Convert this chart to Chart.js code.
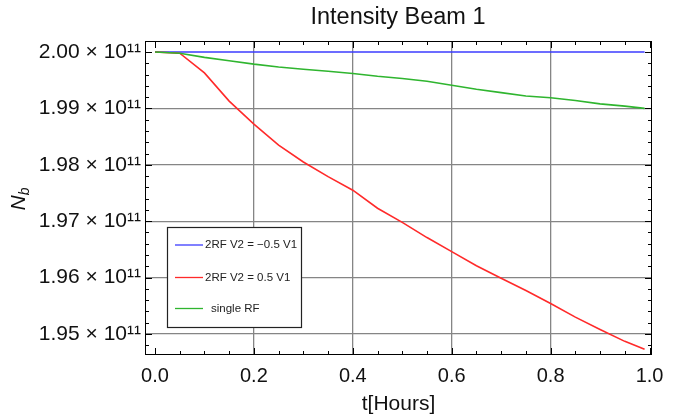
<!DOCTYPE html>
<html><head><meta charset="utf-8">
<script src="https://cdn.jsdelivr.net/npm/chart.js@4.4.1/dist/chart.umd.min.js"></script>
<style>html,body{margin:0;padding:0;background:#fff}#wrap{width:673px;height:419px}</style>
</head><body><div id="wrap"><canvas id="c" width="673" height="419"></canvas></div>
<script>
// ---- data ----
const chartTitle = "Intensity Beam 1";
const xAxisTitle = "t[Hours]";
const yAxisTitleMain = "N";
const yAxisTitleSub = "b";
const seriesLabels = ["2RF V2 = \u22120.5 V1", "2RF V2 = 0.5 V1", "single RF"];
const time = [0, 0.05, 0.10, 0.15, 0.20, 0.25, 0.30, 0.35, 0.40, 0.45, 0.50, 0.55, 0.60, 0.65, 0.70, 0.75, 0.80, 0.85, 0.90, 0.95, 0.99];
const blueValues = [2.0e11, 2.0e11, 2.0e11, 2.0e11, 2.0e11, 2.0e11, 2.0e11, 2.0e11, 2.0e11, 2.0e11, 2.0e11, 2.0e11, 2.0e11, 2.0e11, 2.0e11, 2.0e11, 2.0e11, 2.0e11, 2.0e11, 2.0e11, 2.0e11];
const redValues = [2.0000e11, 1.99978e11, 1.9963e11, 1.9913e11, 1.9872e11, 1.9835e11, 1.9805e11, 1.9779e11, 1.9755e11, 1.9723e11, 1.9698e11, 1.9671e11, 1.9646e11, 1.9621e11, 1.9599e11, 1.9577e11, 1.9554e11, 1.9530e11, 1.9508e11, 1.9487e11, 1.9473e11];
const greenValues = [2.0000e11, 1.99978e11, 1.99905e11, 1.99845e11, 1.99785e11, 1.99735e11, 1.99695e11, 1.9966e11, 1.9962e11, 1.9957e11, 1.9953e11, 1.9948e11, 1.9941e11, 1.9934e11, 1.9928e11, 1.9922e11, 1.9919e11, 1.9914e11, 1.9908e11, 1.9904e11, 1.9900e11];
const xTickValues = [0, 0.2, 0.4, 0.6, 0.8, 1.0];
const xTickLabels = ["0.0", "0.2", "0.4", "0.6", "0.8", "1.0"];
const yTickValues = [1.95e11, 1.96e11, 1.97e11, 1.98e11, 1.99e11, 2.00e11];
const yTickLabels = ["1.95 \u00d7 10\u00b9\u00b9", "1.96 \u00d7 10\u00b9\u00b9", "1.97 \u00d7 10\u00b9\u00b9", "1.98 \u00d7 10\u00b9\u00b9", "1.99 \u00d7 10\u00b9\u00b9", "2.00 \u00d7 10\u00b9\u00b9"];
const colors = ["#3b3bff", "#ff2a2a", "#2fb52f"];

const FONT = "'Liberation Sans', Arial, Helvetica, sans-serif";
const pts = vals => time.map((t, i) => ({x: t, y: vals[i]}));

const frameAndExtras = {
  id: 'frameAndExtras',
  afterDatasetsDraw(chart) {
    const ctx = chart.ctx, a = chart.chartArea;
    const xs = chart.scales.x, ys = chart.scales.y;
    ctx.save();
    // frame
    ctx.strokeStyle = '#000'; ctx.lineWidth = 1;
    ctx.strokeRect(Math.round(a.left) + 0.5, Math.round(a.top) + 0.5, Math.round(a.right - a.left) - 1, Math.round(a.bottom - a.top) - 1);
    // inward ticks, all four sides
    ctx.beginPath();
    for (let k = 0; k <= 20; k++) {
      const v = k * 0.05;
      const px = Math.round(xs.getPixelForValue(v)) + 0.5;
      const len = (k % 4 === 0) ? 7 : 4;
      ctx.moveTo(px, a.bottom); ctx.lineTo(px, a.bottom - len);
      ctx.moveTo(px, a.top); ctx.lineTo(px, a.top + len);
    }
    for (let k = 0; k <= 27; k++) {
      const v = 1.946e11 + k * 0.002e11;
      if (v > ys.max || v < ys.min) continue;
      const py = Math.round(ys.getPixelForValue(v)) + 0.5;
      const isMajor = (k % 5 === 2);
      const len = isMajor ? 7 : 4;
      ctx.moveTo(a.left, py); ctx.lineTo(a.left + len, py);
      ctx.moveTo(a.right, py); ctx.lineTo(a.right - len, py);
    }
    ctx.stroke();
    // legend box
    const bx = 167.5, by = 227.5, bw = 134, bh = 100;
    ctx.fillStyle = '#fff'; ctx.fillRect(bx, by, bw, bh);
    ctx.strokeStyle = '#222'; ctx.lineWidth = 1.2; ctx.strokeRect(bx, by, bw, bh);
    const rows = [245, 277.5, 308.5];
    ctx.font = "11.5px " + FONT; ctx.textBaseline = 'middle'; ctx.textAlign = 'left';
    chart.data.datasets.forEach((ds, i) => {
      ctx.strokeStyle = ds.borderColor; ctx.lineWidth = 1.3;
      ctx.beginPath(); ctx.moveTo(175, rows[i]); ctx.lineTo(203, rows[i]); ctx.stroke();
      ctx.fillStyle = '#222';
      ctx.fillText(ds.label, i === 2 ? 211 : 205, rows[i]);
    });
    // title
    ctx.fillStyle = '#111'; ctx.textAlign = 'center'; ctx.textBaseline = 'middle';
    ctx.font = "23.5px " + FONT;
    ctx.fillText(chartTitle, 398, 18);
    // y axis title N_b rotated
    ctx.translate(17, 199); ctx.rotate(-Math.PI / 2);
    ctx.textAlign = 'left'; ctx.textBaseline = 'alphabetic';
    ctx.font = "italic 21px " + FONT;
    const wN = ctx.measureText(yAxisTitleMain).width;
    ctx.font = "italic 14px " + FONT;
    const wb = ctx.measureText(yAxisTitleSub).width;
    const start = -(wN + wb) / 2;
    ctx.font = "italic 21px " + FONT;
    ctx.fillText(yAxisTitleMain, start, 8);
    ctx.font = "italic 14px " + FONT;
    ctx.fillText(yAxisTitleSub, start + wN, 12);
    ctx.restore();
  }
};

new Chart(document.getElementById('c'), {
  type: 'line',
  data: {
    datasets: [
      {label: seriesLabels[0], data: pts(blueValues), borderColor: colors[0], borderWidth: 1.4, order: 3},
      {label: seriesLabels[1], data: pts(redValues), borderColor: colors[1], borderWidth: 1.6, order: 2},
      {label: seriesLabels[2], data: pts(greenValues), borderColor: colors[2], borderWidth: 1.6, order: 1}
    ]
  },
  options: {
    responsive: false, animation: false, devicePixelRatio: 1,
    layout: {padding: {left: 0, right: 21, top: 41, bottom: 0}},
    elements: {point: {radius: 0}, line: {tension: 0, fill: false}},
    plugins: {legend: {display: false}, title: {display: false}, tooltip: {enabled: false}},
    scales: {
      x: {
        type: 'linear', min: -0.0202, max: 1.005,
        afterBuildTicks: s => { s.ticks = xTickValues.map(v => ({value: v})); },
        afterFit: s => { s.height = 64; },
        border: {display: false},
        grid: {drawTicks: false, lineWidth: 1.3, color: c => (c.tick && (c.tick.value === 0 || c.tick.value === 1)) ? 'rgba(0,0,0,0)' : '#858585'},
        ticks: {padding: 9, color: '#111', font: {size: 20, family: FONT}, maxRotation: 0, autoSkip: false,
          callback: (v, i) => xTickLabels[i]},
        title: {display: true, text: xAxisTitle, color: '#111', font: {size: 21, family: FONT}, padding: {top: 0, bottom: 2}}
      },
      y: {
        type: 'linear', min: 1.94628e11, max: 2.00195e11,
        afterBuildTicks: s => { s.ticks = yTickValues.map(v => ({value: v})); },
        afterFit: s => { s.width = 145; },
        border: {display: false},
        grid: {drawTicks: false, lineWidth: 1.3, color: c => (c.tick && Math.abs(c.tick.value - 2.0e11) < 1e6) ? 'rgba(0,0,0,0)' : '#858585'},
        ticks: {padding: 4, color: '#111', font: {size: 21, family: FONT}, autoSkip: false,
          callback: (v, i) => yTickLabels[i]}
      }
    }
  },
  plugins: [frameAndExtras]
});
</script></body></html>
